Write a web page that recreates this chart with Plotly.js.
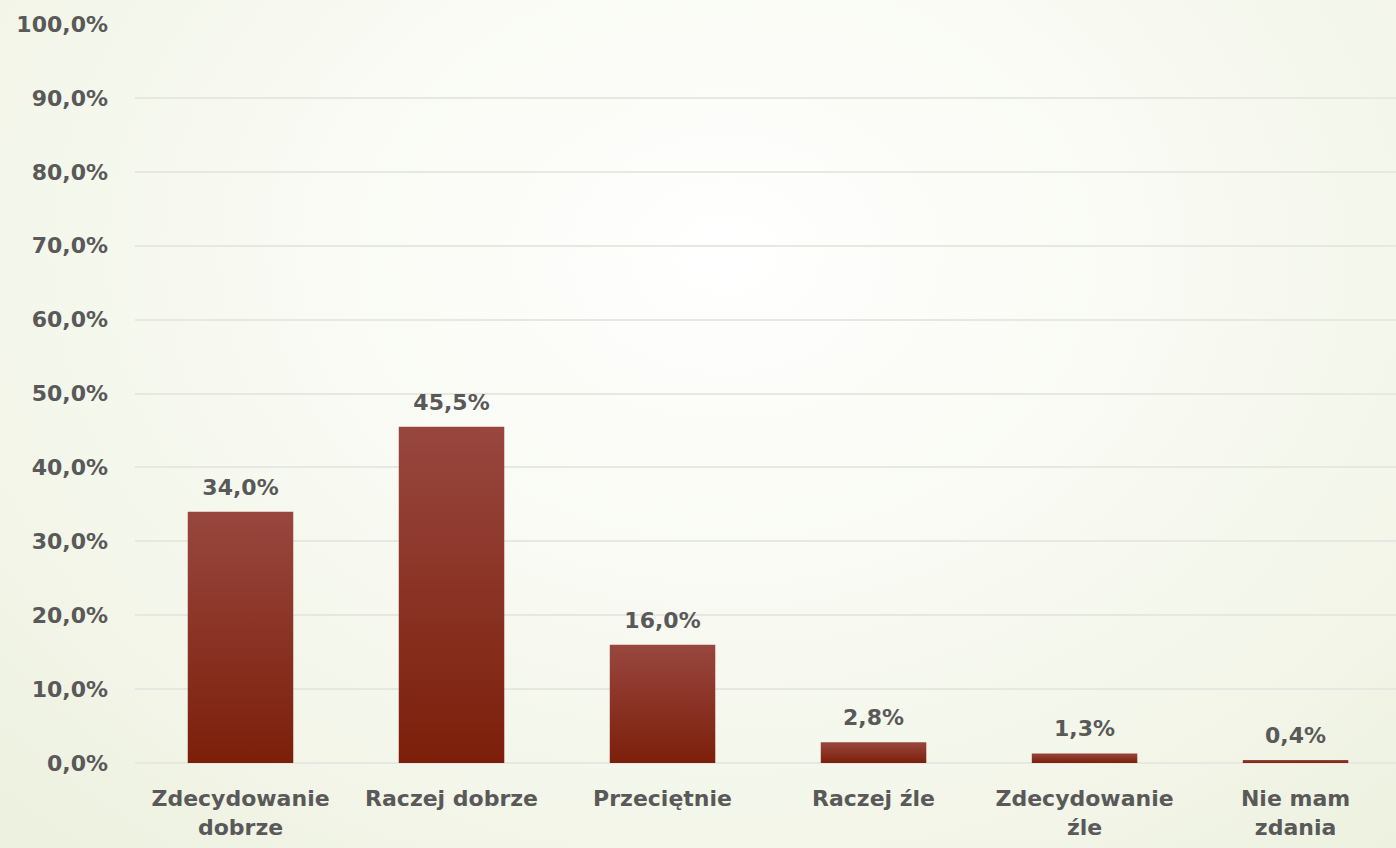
<!DOCTYPE html>
<html>
<head>
<meta charset="utf-8">
<script src="https://cdn.plot.ly/plotly-3.0.1.min.js"></script>
<style>
  html, body { margin: 0; padding: 0; width: 1396px; height: 848px; overflow: hidden;
    background: radial-gradient(ellipse 75% 95% at 52% 30%, #ffffff 0%, #f8faf2 45%, #edf1df 100%); }
  #chart { width: 1396px; height: 848px; }
</style>
</head>
<body>
<div id="chart"></div>
<script>
const categories = ["Zdecydowanie<br>dobrze", "Raczej dobrze", "Przeciętnie", "Raczej źle", "Zdecydowanie<br>źle", "Nie mam<br>zdania"];
const values = [34.0, 45.5, 16.0, 2.8, 1.3, 0.4];
const labels = values.map(v => v.toFixed(1).replace('.', ',') + '%');

const FONT = '"DejaVu Sans", Verdana, sans-serif';
const GRAY = '#595959';

const trace = {
  type: 'bar',
  x: categories,
  y: values,
  text: labels,
  textposition: 'outside',
  cliponaxis: false,
  textfont: { family: FONT, size: 22, color: GRAY, weight: 'bold' },
  marker: { color: '#8a3328', line: { width: 0 } },
  hoverinfo: 'none'
};

const layout = {
  width: 1396, height: 848,
  margin: { l: 135, r: 0, t: 24, b: 85 },
  paper_bgcolor: 'rgba(0,0,0,0)',
  plot_bgcolor: 'rgba(0,0,0,0)',
  separators: ', ',
  bargap: 0.5,
  showlegend: false,
  font: { family: FONT, color: GRAY, weight: 'bold' },
  xaxis: {
    range: [-0.5, 5.476],
    showgrid: false, zeroline: false, showline: false,
    ticks: '', ticklabelstandoff: 20,
    tickfont: { family: FONT, size: 22, color: GRAY, weight: 'bold' }
  },
  yaxis: {
    range: [0, 100], dtick: 10, tick0: 0,
    tickformat: '.1f', ticksuffix: '%',
    showgrid: true, gridcolor: '#e8e8e2', gridwidth: 2,
    zeroline: true, zerolinecolor: '#e8e8e2', zerolinewidth: 2,
    showline: false, ticks: '', ticklabelstandoff: 26,
    tickfont: { family: FONT, size: 22, color: GRAY, weight: 'bold' }
  }
};

Plotly.newPlot('chart', [trace], layout, { staticPlot: true, displayModeBar: false }).then(function (gd) {
  const svg = gd.querySelector('svg.main-svg');
  const ns = 'http://www.w3.org/2000/svg';
  let defs = svg.querySelector('defs');
  if (!defs) { defs = document.createElementNS(ns, 'defs'); svg.insertBefore(defs, svg.firstChild); }
  const grad = document.createElementNS(ns, 'linearGradient');
  grad.setAttribute('id', 'barGrad');
  grad.setAttribute('x1', '0'); grad.setAttribute('y1', '0');
  grad.setAttribute('x2', '0'); grad.setAttribute('y2', '1');
  [['0', '#98473f'], ['1', '#7c1f0a']].forEach(function (s) {
    const st = document.createElementNS(ns, 'stop');
    st.setAttribute('offset', s[0]);
    st.setAttribute('stop-color', s[1]);
    grad.appendChild(st);
  });
  defs.appendChild(grad);
  gd.querySelectorAll('.bars .point path').forEach(function (p) {
    p.style.fill = 'url(#barGrad)';
  });
  gd.querySelectorAll('.bars .point text').forEach(function (t) {
    const tr = t.getAttribute('transform') || '';
    t.setAttribute('transform', 'translate(0,-9) ' + tr);
  });
});
</script>
</body>
</html>
